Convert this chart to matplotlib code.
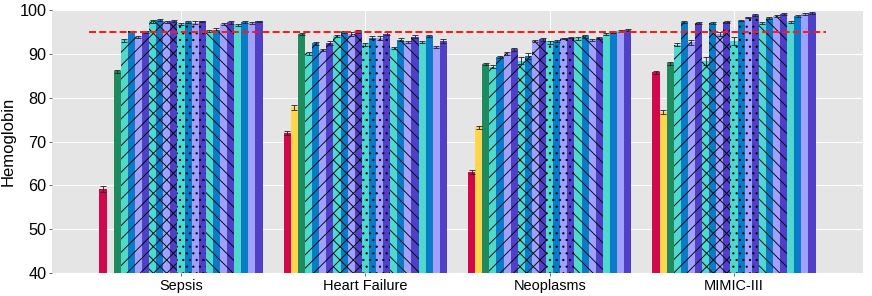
import numpy as np
import matplotlib.pyplot as plt

datasets = ["Sepsis", "Heart Failure", "Neoplasms", "MIMIC-III"]

# 23 methods per dataset (yellow bar for Sepsis falls below the axis floor)
sepsis = [59.1, np.nan, 86.0, 93.1, 95.1, 93.9, 94.9, 97.4, 97.8, 97.3, 97.5,
          96.8, 97.3, 97.1, 97.4, 95.2, 95.5, 96.8, 97.2, 96.6, 97.2, 97.1, 97.4]
heart_failure = [71.9, 77.8, 94.5, 90.1, 92.4, 90.9, 92.5, 94.1, 95.0, 94.5, 95.1,
                 92.2, 93.7, 93.6, 94.6, 91.3, 93.2, 92.7, 93.9, 92.7, 94.1, 91.6, 92.9]
neoplasms = [63.0, 73.2, 87.6, 87.1, 89.2, 90.1, 91.0, 88.4, 89.5, 93.0, 93.3,
             92.6, 93.0, 93.5, 93.7, 93.5, 94.0, 93.2, 93.6, 94.6, 95.0, 95.2, 95.4]
mimic = [85.8, 76.8, 87.8, 92.1, 97.3, 92.6, 97.0, 88.4, 97.1, 94.5, 97.2,
         92.9, 97.6, 98.3, 98.8, 97.0, 98.2, 98.7, 99.1, 97.3, 98.7, 99.1, 99.4]

sepsis_err = [0.7, 0.0, 0.4, 0.3, 0.2, 0.2, 0.2, 0.3, 0.2, 0.3, 0.2,
              0.3, 0.2, 0.3, 0.2, 0.2, 0.3, 0.2, 0.3, 0.3, 0.2, 0.2, 0.2]
heart_failure_err = [0.5, 0.5, 0.3, 0.4, 0.4, 0.3, 0.4, 0.3, 0.3, 0.4, 0.3,
                     0.3, 0.3, 0.4, 0.3, 0.3, 0.3, 0.3, 0.3, 0.3, 0.3, 0.3, 0.4]
neoplasms_err = [0.5, 0.3, 0.2, 0.4, 0.2, 0.3, 0.3, 0.8, 0.6, 0.2, 0.3,
                 0.3, 0.2, 0.2, 0.2, 0.3, 0.3, 0.2, 0.2, 0.2, 0.2, 0.2, 0.2]
mimic_err = [0.3, 0.5, 0.4, 0.4, 0.2, 0.5, 0.2, 0.9, 0.2, 0.4, 0.2,
             0.9, 0.2, 0.2, 0.2, 0.2, 0.2, 0.2, 0.2, 0.3, 0.2, 0.2, 0.2]

threshold = 95

base_colors = ["#D1084E", "#FFD54C", "#1E8A5E"]
cycle_colors = ["#4ED8CE", "#097BC8", "#A0A0FE", "#5040C8"]
cycle_hatches = ["//", "xx", "..", "\\\\", ""]

colors = base_colors + cycle_colors * len(cycle_hatches)
hatches = [""] * len(base_colors) + [h for h in cycle_hatches for _ in cycle_colors]

values = np.array([sepsis, heart_failure, neoplasms, mimic])
errors = np.array([sepsis_err, heart_failure_err, neoplasms_err, mimic_err])

plt.rcParams["font.family"] = ["Liberation Sans", "DejaVu Sans"]
plt.rcParams["hatch.linewidth"] = 0.8
plt.rcParams["hatch.color"] = "black"

fig = plt.figure(figsize=(10.9, 3.7), dpi=80)
ax = fig.add_axes([52 / 872, 23 / 296, 811 / 872, 263 / 296])
ax.set_facecolor("#E5E5E5")

n_methods = values.shape[1]
group_width = 0.885
bar_w = group_width / n_methods
x = np.arange(len(datasets))

for m in range(n_methods):
    pos = x - group_width / 2 + bar_w * (m + 0.5)
    ax.bar(pos, values[:, m], width=bar_w, color=colors[m], hatch=hatches[m],
           edgecolor="black", linewidth=0, zorder=2)
    ax.errorbar(pos, values[:, m], yerr=errors[:, m], fmt="none",
                ecolor="#222222", elinewidth=0.9, capsize=2.3, capthick=0.9,
                alpha=0.85, zorder=3)

ax.plot([x[0] - 0.5, x[-1] + 0.5], [threshold, threshold], color="#FF1A1A",
        linestyle=(0, (3.5, 1.6)), linewidth=1.8, zorder=4)

ax.set_xlim(-0.7, 3.7)
ax.set_ylim(40, 100)
ax.set_yticks(np.arange(40, 101, 10))
ax.set_xticks(x)
ax.set_xticklabels(datasets)
ax.set_ylabel("Hemoglobin", fontsize=15, labelpad=3)

ax.grid(True, color="white", linewidth=1.0, zorder=0)
ax.set_axisbelow(True)
for s in ax.spines.values():
    s.set_visible(False)
ax.tick_params(axis="both", colors="#555555", labelcolor="black",
               length=3, width=0.8, pad=2)
ax.tick_params(axis="y", labelsize=14.6)
ax.tick_params(axis="x", labelsize=13)

fig.savefig("out.png", dpi=80)
